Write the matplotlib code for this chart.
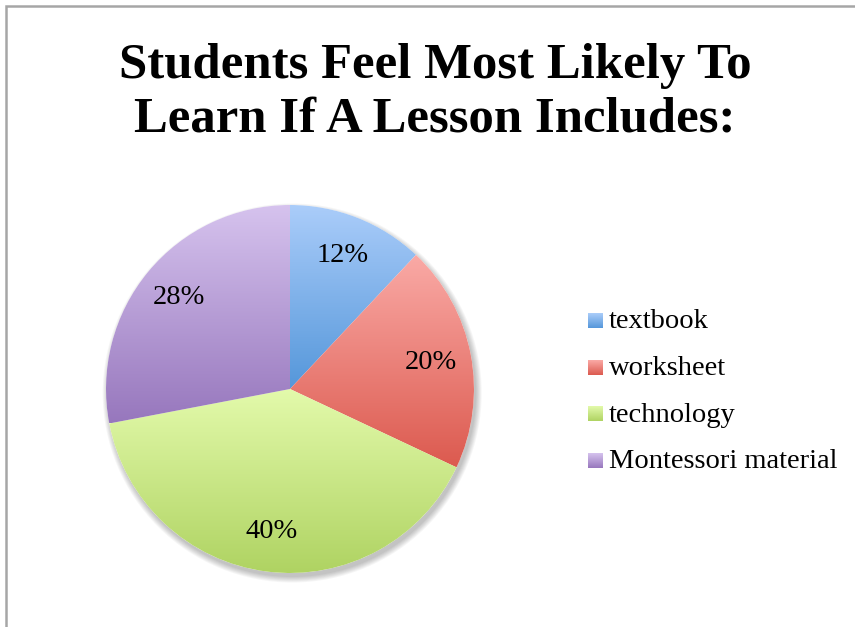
import numpy as np
import matplotlib as mpl
import matplotlib.pyplot as plt
from matplotlib.patches import Circle
from matplotlib.colors import to_rgb

# chart data
title = 'Students Feel Most Likely To\nLearn If A Lesson Includes:'
labels = ['textbook', 'worksheet', 'technology', 'Montessori material']
shares = [12, 20, 40, 28]
# gradient colours per slice: (top, bottom)
tops = ['#abcdfa', '#faaaa6', '#e3faab', '#d6c3ee']
bottoms = ['#5597da', '#dc5a4f', '#afd362', '#9777bd']

mpl.rcParams['font.family'] = ['Liberation Serif', 'DejaVu Serif']

W, H = 855, 627
fig = plt.figure(figsize=(W / 100, H / 100), dpi=100)
fig.patch.set_facecolor('white')


def gradient(top, bottom, n=256):
    t = np.linspace(0, 1, n)[:, None]
    c = (1 - t) * np.array(to_rgb(top)) + t * np.array(to_rgb(bottom))
    return c[:, None, :]


# pie axes: centre (290, 389) px, radius 184 px
R = 184
cx, cy = 290, 389
pad = 1.12
ax = fig.add_axes([(cx - R * pad) / W, (H - cy - R * pad) / H,
                   2 * R * pad / W, 2 * R * pad / H])
ax.axis('off')

# soft shadow
for k in range(7):
    ax.add_patch(Circle((0.012, -0.022), 1.0 + 0.005 * k, color='black',
                        alpha=0.035, lw=0, zorder=0))
ax.add_patch(Circle((0, 0), 1.0, color='white', lw=0, zorder=0.5))

wedges, texts, autotexts = ax.pie(
    shares, startangle=90, counterclock=False, radius=1.0,
    autopct='%1.0f%%', pctdistance=0.78,
    wedgeprops=dict(linewidth=0, edgecolor='none'),
    textprops=dict(fontsize=20.5, color='black'))

for w, top, bot in zip(wedges, tops, bottoms):
    w.set_facecolor('none')
    ext = w.get_path().get_extents()
    im = ax.imshow(gradient(top, bot), extent=(ext.x0, ext.x1, ext.y0, ext.y1),
                   origin='upper', aspect='auto', interpolation='bilinear',
                   zorder=1)
    im.set_clip_path(w)
for t in autotexts:
    t.set_zorder(3)
ax.set_xlim(-pad, pad)
ax.set_ylim(-pad, pad)

# overlay in pixel coordinates for title, legend and frame
ov = fig.add_axes([0, 0, 1, 1], zorder=5)
ov.axis('off')
ov.patch.set_alpha(0)

ov.text(435, 93, title, ha='center', va='center', fontsize=36.5,
        fontweight='bold', linespacing=1.22)

for i, lab in enumerate(labels):
    y = 321 + 46.5 * i
    ov.imshow(gradient(tops[i], bottoms[i]), extent=(588, 603, y + 7.5, y - 7.5),
              aspect='auto', interpolation='bilinear')
    ov.text(609, y + 1, lab, ha='left', va='center', fontsize=20.5)
ov.set_xlim(0, W)
ov.set_ylim(H, 0)

ov.plot([5.5, 5.5, W], [H, 5.5, 5.5], color='#a6a6a6', lw=1.8,
        solid_joinstyle='miter')

fig.savefig('out.png', dpi=100)
